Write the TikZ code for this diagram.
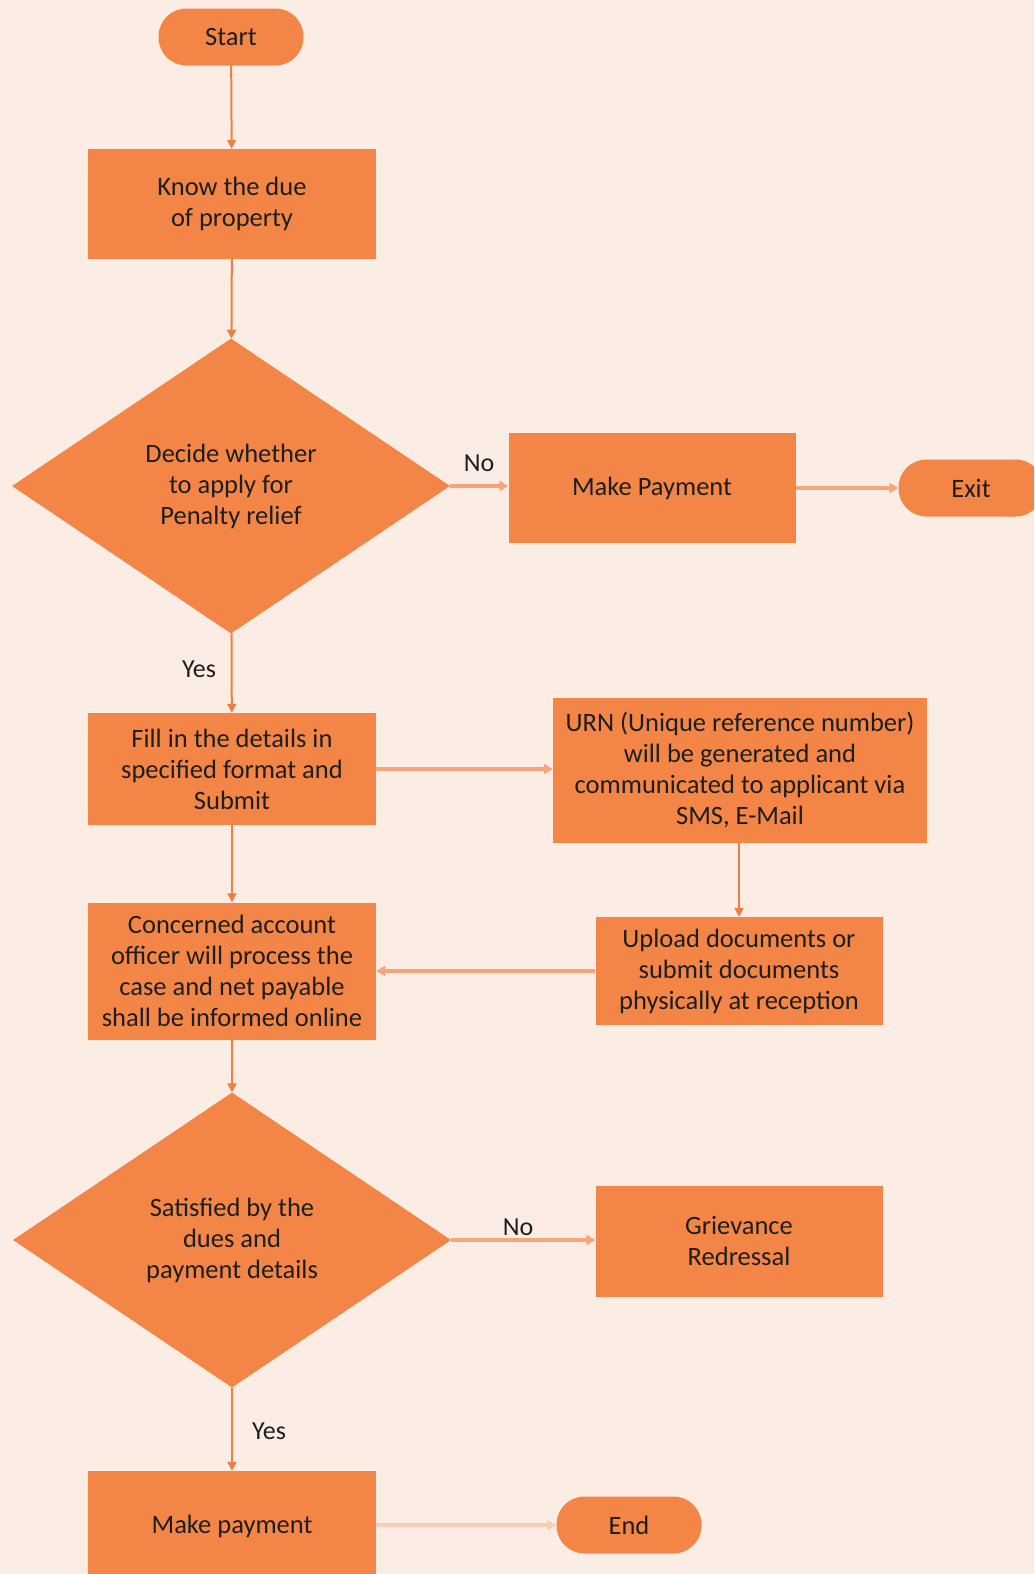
\documentclass[tikz,border=0pt]{standalone}
\usepackage{fontspec}
\setmainfont{Carlito}
\usetikzlibrary{shapes.geometric,arrows.meta}

\definecolor{paper}{HTML}{FCEDE4}
\definecolor{boxfill}{HTML}{F38647}
\definecolor{linedark}{HTML}{EE7E44}
\definecolor{linelight}{HTML}{F5A47C}
\definecolor{ink}{HTML}{1E1E1E}

\tikzset{
  base/.style={fill=boxfill, draw=none, inner sep=0pt, align=center,
    text=ink, font=\fontsize{26.5}{31}\selectfont},
  stepbox/.style={base, rectangle},
  term/.style={base, rectangle, rounded corners=28pt,
    minimum width=145pt, minimum height=57pt},
  decide/.style={base, diamond, minimum width=438pt, minimum height=295pt},
  lbl/.style={text=ink, inner sep=0pt, font=\fontsize{26}{30}\selectfont},
  vflow/.style={draw=linedark, line width=2pt,
    -{Triangle[length=9pt,width=9pt]}},
  hflow/.style={draw=linelight, line width=3.5pt,
    -{Triangle[length=9pt,width=10pt]}},
  hfaint/.style={hflow, draw=paper!55!linelight},
}

\begin{document}
\begin{tikzpicture}[x=1pt, y=-1pt]
  \useasboundingbox (0,0) rectangle (1034,1574);
  \clip (0,0) rectangle (1034,1574);
  \fill[paper] (0,0) rectangle (1034,1574);

  % main column
  \node[term] (start) at (231,37) {Start};
  \node[stepbox, minimum width=288pt, minimum height=110pt] (due) at (232,204)
    {Know the due\\of property};
  \node[decide] (relief) at (231,486)
    {Decide whether\\to apply for\\Penalty relief};
  \node[stepbox, minimum width=288pt, minimum height=112pt] (fill) at (232,769)
    {Fill in the details in\\specified format and\\Submit};
  \node[stepbox, minimum width=288pt, minimum height=137pt] (officer) at (232,971)
    {Concerned account\\officer will process the\\case and net payable\\shall be informed online};
  \node[decide] (satisfied) at (232,1240)
    {Satisfied by the\\dues and\\payment details};
  \node[stepbox, minimum width=288pt, minimum height=110pt] (pay) at (232,1526)
    {Make payment};

  % right-hand side
  \node[stepbox, minimum width=287pt, minimum height=110pt] (makepay) at (652,488)
    {Make Payment};
  \node[term] (exit) at (971,488) {Exit};
  \node[stepbox, minimum width=374pt, minimum height=145pt] (urn) at (740,770)
    {URN (Unique reference number)\\will be generated and\\communicated to applicant via\\SMS, E-Mail};
  \node[stepbox, minimum width=287pt, minimum height=108pt] (upload) at (739,971)
    {Upload documents or\\submit documents\\physically at reception};
  \node[stepbox, minimum width=287pt, minimum height=111pt] (grievance) at (739,1241)
    {Grievance\\Redressal};
  \node[term] (finish) at (629,1525) {End};

  % vertical connectors
  \draw[vflow] (start) -- (due);
  \draw[vflow] (due) -- (relief);
  \draw[vflow] (relief) -- (fill);
  \draw[vflow] (fill) -- (officer);
  \draw[vflow] (officer) -- (satisfied);
  \draw[vflow] (satisfied) -- (pay);
  \draw[vflow] (urn.south -| upload.north) -- (upload.north);

  % horizontal connectors
  \draw[hflow] (relief.east) -- (makepay.west |- relief.east);
  \draw[hflow] (makepay) -- (exit);
  \draw[hflow] (fill.east) -- (urn.west |- fill.east);
  \draw[hflow] (upload.west) -- (officer.east |- upload.west);
  \draw[hflow] (satisfied.east) -- (grievance.west |- satisfied.east);
  \draw[hfaint] (pay.east |- finish.west) -- (finish.west);

  % branch labels
  \node[lbl] (no1) at (479,463) {No};
  \node[lbl] (yes1) at (199,669) {Yes};
  \node[lbl] (no2) at (518,1227) {No};
  \node[lbl] (yes2) at (269,1431) {Yes};
\end{tikzpicture}
\end{document}
